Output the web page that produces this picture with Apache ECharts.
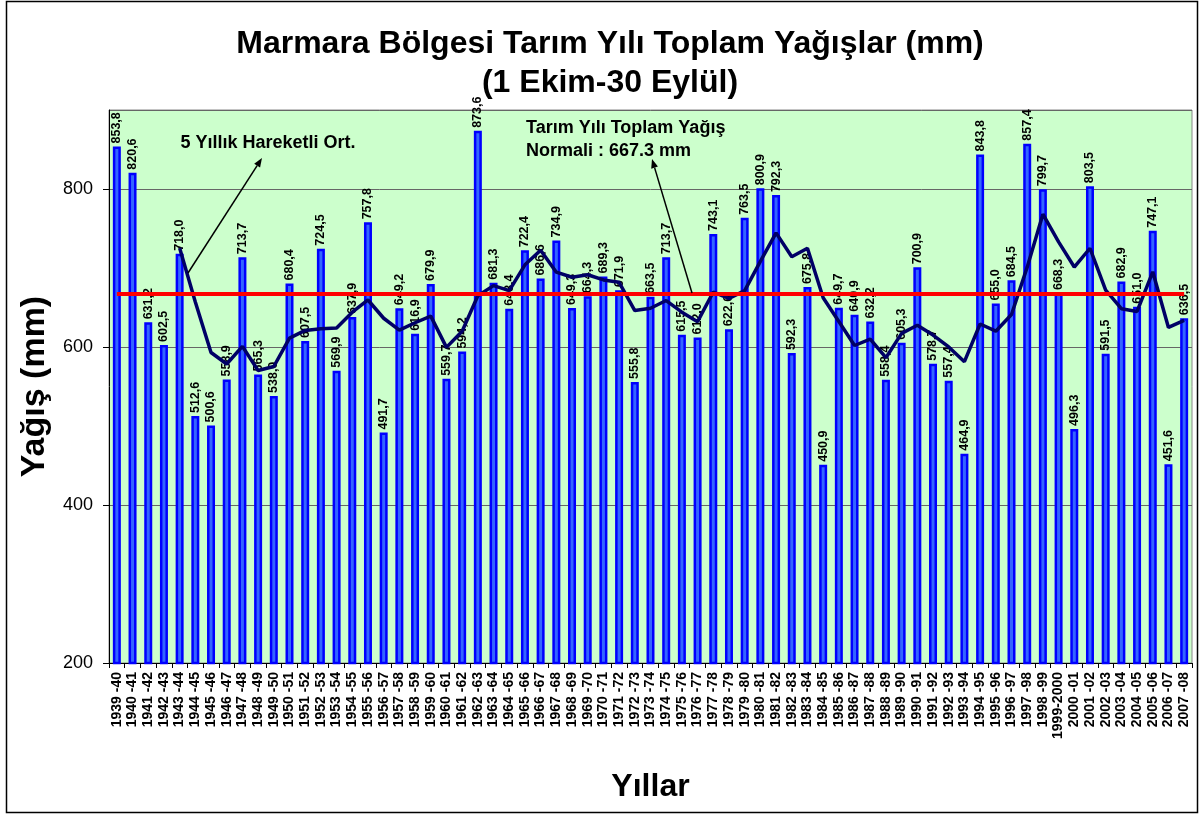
<!DOCTYPE html>
<html>
<head>
<meta charset="utf-8">
<script src="https://cdn.jsdelivr.net/npm/echarts@6/dist/echarts.min.js"></script>
<style>
  html, body { margin: 0; padding: 0; background: #fff; }
  #chart { width: 1200px; height: 814px; }
</style>
</head>
<body>
<div id="chart"></div>
<script>
(function () {
  'use strict';

  // ── Data ──

  var years = [
    '1939 -40', '1940 -41', '1941 -42', '1942 -43', '1943 -44', '1944 -45', '1945 -46', '1946 -47', '1947 -48', '1948 -49',
    '1949 -50', '1950 -51', '1951 -52', '1952 -53', '1953 -54', '1954 -55', '1955 -56', '1956 -57', '1957 -58', '1958 -59',
    '1959 -60', '1960 -61', '1961 -62', '1962 -63', '1963 -64', '1964 -65', '1965 -66', '1966 -67', '1967 -68', '1968 -69',
    '1969 -70', '1970 -71', '1971 -72', '1972 -73', '1973 -74', '1974 -75', '1975 -76', '1976 -77', '1977 -78', '1978 -79',
    '1979 -80', '1980 -81', '1981 -82', '1982 -83', '1983 -84', '1984 -85', '1985 -86', '1986 -87', '1987 -88', '1988 -89',
    '1989 -90', '1990 -91', '1991 -92', '1992 -93', '1993 -94', '1994 -95', '1995 -96', '1996 -97', '1997 -98', '1998 -99',
    '1999-2000', '2000 -01', '2001 -02', '2002 -03', '2003 -04', '2004 -05', '2005 -06', '2006 -07', '2007 -08'
  ];

  var rainfall = [
    853.8, 820.6, 631.2, 602.5, 718.0, 512.6, 500.6, 558.9, 713.7, 565.3,
    538.0, 680.4, 607.5, 724.5, 569.9, 637.9, 757.8, 491.7, 649.2, 616.9,
    679.9, 559.7, 594.2, 873.6, 681.3, 648.4, 722.4, 686.6, 734.9, 649.3,
    664.3, 689.3, 671.9, 555.8, 663.5, 713.7, 615.5, 612.0, 743.1, 622.6,
    763.5, 800.9, 792.3, 592.3, 675.8, 450.9, 649.7, 640.9, 632.2, 558.4,
    605.3, 700.9, 578.7, 557.4, 464.9, 843.8, 655.0, 684.5, 857.4, 799.7,
    668.3, 496.3, 803.5, 591.5, 682.9, 651.0, 747.1, 451.6, 636.5
  ];

  // 5-year moving average as drawn (starts at the 5th year)
  var movingAvg = [
    null, null, null, null, 725.2, 657.0, 593.0, 578.5, 600.8, 570.2,
    575.3, 611.3, 621.0, 623.1, 624.1, 644.0, 659.5, 636.4, 621.3, 630.7,
    639.1, 599.5, 620.0, 664.9, 677.7, 671.4, 704.0, 722.5, 694.7, 688.3,
    691.5, 684.9, 681.9, 646.1, 649.0, 658.8, 644.1, 632.1, 669.6, 661.4,
    671.3, 708.4, 744.5, 714.3, 725.0, 662.4, 632.2, 601.9, 609.9, 586.4,
    617.3, 627.5, 615.1, 600.1, 581.4, 629.1, 620.0, 641.1, 701.1, 768.1,
    733.0, 701.2, 725.0, 671.9, 648.5, 645.0, 695.2, 624.8, 633.8
  ];

  var normal = 667.3;

  var yTicks = { min: 200, max: 900, interval: 200 };

  // ── Helpers ──

  var FONT = 'Liberation Sans, Arial, sans-serif';

  function fmtComma(v) { return v.toFixed(1).replace('.', ','); }

  function arrow(x1, y1, x2, y2) {
    var ang = Math.atan2(y2 - y1, x2 - x1);
    var len = 9, w = 3.5;
    var bx = x2 - len * Math.cos(ang), by = y2 - len * Math.sin(ang);
    var px = -Math.sin(ang) * w, py = Math.cos(ang) * w;
    return [
      { type: 'line', shape: { x1: x1, y1: y1, x2: bx, y2: by }, style: { stroke: '#000', lineWidth: 1.5 }, z: 100 },
      { type: 'polygon', shape: { points: [[x2, y2], [bx + px, by + py], [bx - px, by - py]] }, style: { fill: '#000' }, z: 100 }
    ];
  }

  function annText(x, y, text, align) {
    return {
      type: 'text', x: x, y: y, z: 100,
      style: { text: text, fill: '#000', font: 'bold 18px ' + FONT, textAlign: align || 'left', textVerticalAlign: 'middle' }
    };
  }

  // ── Chart ──

  var chart = echarts.init(document.getElementById('chart'), null, { renderer: 'canvas' });

  var graphics = [
    { type: 'rect', shape: { x: 6.5, y: 1.5, width: 1191, height: 811 }, style: { fill: null, stroke: '#000', lineWidth: 1.5 }, z: 100 },
    annText(268, 143, '5 Yıllık Hareketli Ort.', 'center'),
    annText(526, 128, 'Tarım Yılı Toplam Yağış'),
    annText(526, 151, 'Normali : 667.3 mm')
  ].concat(arrow(188, 273, 262, 158)).concat(arrow(692, 293, 652, 159));

  chart.setOption({
    animation: false,
    backgroundColor: '#fff',
    title: {
      text: 'Marmara Bölgesi Tarım Yılı Toplam Yağışlar (mm)\n(1 Ekim-30 Eylül)',
      left: 605, top: 20, textAlign: 'center',
      textStyle: { fontFamily: FONT, fontSize: 32, fontWeight: 'bold', color: '#000', lineHeight: 39 }
    },
    grid: { left: 109, right: 8, top: 110, bottom: 151, show: true, backgroundColor: '#ccffcc', borderColor: '#888', borderWidth: 1 },
    xAxis: {
      type: 'category',
      data: years,
      name: 'Yıllar',
      nameLocation: 'middle',
      nameGap: 108,
      nameTextStyle: { fontFamily: FONT, fontSize: 32, fontWeight: 'bold', color: '#000' },
      axisLine: { lineStyle: { color: '#000', width: 1 } },
      axisTick: { show: true, length: 5, lineStyle: { color: '#000' } },
      axisLabel: { interval: 0, rotate: 90, fontFamily: FONT, fontSize: 14, fontWeight: 'bold', color: '#000', margin: 9 }
    },
    yAxis: {
      type: 'value',
      min: yTicks.min, max: yTicks.max, interval: yTicks.interval,
      name: 'Yağış (mm)',
      nameLocation: 'middle',
      nameGap: 56,
      nameTextStyle: { fontFamily: FONT, fontSize: 34, fontWeight: 'bold', color: '#000' },
      axisLine: { show: true, lineStyle: { color: '#000' } },
      axisTick: { show: true, length: 6, lineStyle: { color: '#000' } },
      axisLabel: { fontFamily: FONT, fontSize: 18, color: '#000', margin: 16, showMaxLabel: false },
      splitLine: { lineStyle: { color: '#666', width: 1 } }
    },
    graphic: graphics,
    series: [
      {
        name: 'Toplam Yağış',
        type: 'bar',
        data: rainfall,
        barWidth: 8,
        itemStyle: { color: '#3366ff', borderColor: '#0000ff', borderWidth: 2.5 },
        label: {
          show: true, position: 'top', rotate: 90, align: 'left', verticalAlign: 'middle', distance: 3,
          fontFamily: FONT, fontSize: 12.5, fontWeight: 'bold', color: '#000',
          formatter: function (p) { return fmtComma(p.value); }
        },
        z: 2,
        markLine: {
          silent: true,
          symbol: 'none',
          label: { show: false },
          lineStyle: { color: '#ff0000', width: 4, type: 'solid' },
          data: [[{ coord: [years[0], normal] }, { coord: [years[years.length - 1], normal] }]]
        }
      },
      {
        name: '5 Yıllık Hareketli Ort.',
        type: 'line',
        data: movingAvg,
        symbol: 'none',
        connectNulls: false,
        lineStyle: { color: '#000066', width: 3.5 },
        z: 4
      }
    ]
  });
})();
</script>
</body>
</html>
